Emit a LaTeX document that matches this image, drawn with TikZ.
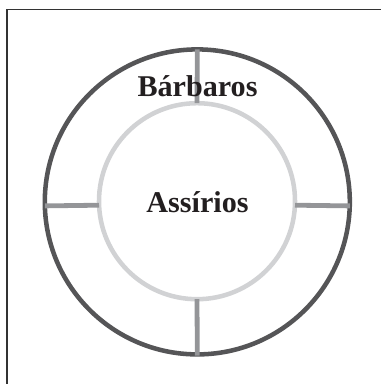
\documentclass[tikz,border=0pt]{standalone}
\usepackage{fontspec}
\setmainfont{Liberation Serif}
\definecolor{ringdark}{HTML}{555557}
\definecolor{ringlight}{HTML}{D1D2D4}
\definecolor{spokegray}{HTML}{949598}
\definecolor{framegray}{HTML}{333333}
\definecolor{textdark}{HTML}{231F20}
\begin{document}
\begin{tikzpicture}[x=0.75pt,y=-0.75pt,
  ring/.style={circle,draw,inner sep=0pt,outer sep=0pt,line width=3.4pt},
  spoke/.style={draw=spokegray,line width=3.6pt},
  label/.style={font=\fontsize{22.6}{26}\selectfont\bfseries,text=textdark,anchor=base,inner sep=0pt}]
\useasboundingbox (0,0) rectangle (381,384);
\draw[framegray,line width=0.8pt] (7,384) -- (7,9.5) -- (381,9.5);
\node[ring,draw=ringdark,minimum size=228.75pt] (outer) at (197.3,201.9) {};
\node[ring,draw=ringlight,minimum size=147pt] (inner) at (197,201.2) {};
\draw[spoke] (outer.north) -- (inner.north);
\draw[spoke] (inner.south) -- ([yshift=-1pt]outer.south);
\draw[spoke] ([yshift=-3pt]outer.west) -- ([yshift=-3pt]inner.west);
\draw[spoke] ([yshift=-3pt]inner.east) -- ([yshift=-3pt]outer.east);
\node[label] (barbaros) at (197.5,97) {Bárbaros};
\node[label] (assirios) at (197.5,212) {Assírios};
\end{tikzpicture}
\end{document}
